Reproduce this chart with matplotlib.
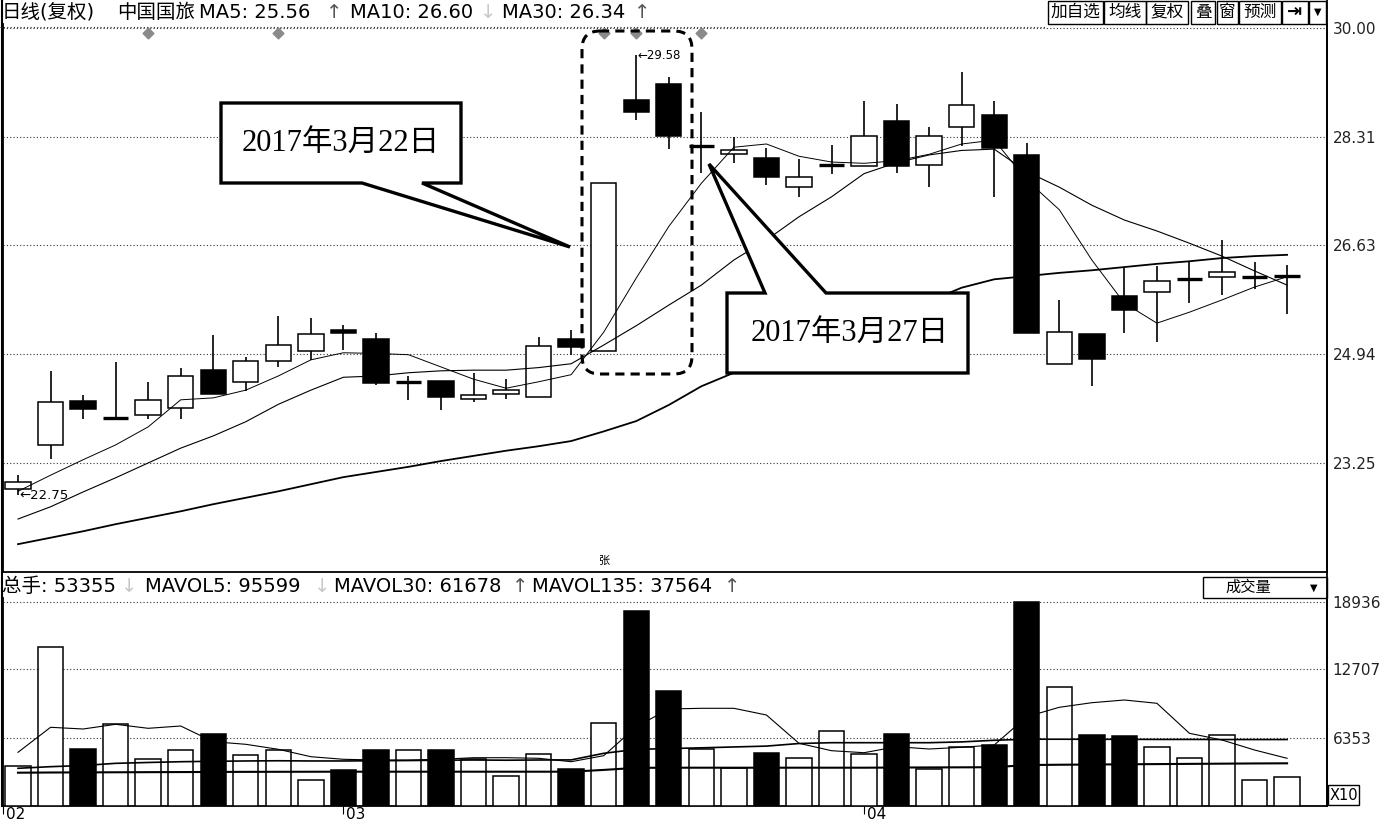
import numpy as np
import matplotlib
matplotlib.use("Agg")
import matplotlib.pyplot as plt
from matplotlib.patches import FancyBboxPatch, Polygon, Rectangle
from matplotlib.transforms import blended_transform_factory, ScaledTranslation

plt.rcParams['font.family'] = ['DejaVu Sans', 'Noto Sans CJK SC']

# K线数据
opens = np.array([22.84, 23.53, 24.21, 23.95, 23.99, 24.10, 24.70, 24.50, 24.84, 24.99,
                  25.32, 25.18, 24.50, 24.52, 24.24, 24.32, 24.28, 25.18, 24.98, 28.88,
                  29.13, 28.17, 28.04, 27.98, 27.54, 27.87, 27.86, 28.56, 27.87, 28.46,
                  28.65, 28.03, 24.78, 25.25, 25.84, 25.91, 26.10, 26.14, 26.14, 26.15])
highs = np.array([23.06, 24.67, 24.30, 24.82, 24.51, 24.72, 25.24, 24.90, 25.53, 25.50,
                  25.39, 25.26, 24.60, 24.52, 24.64, 24.56, 25.20, 25.31, 27.59, 29.58,
                  29.24, 28.70, 28.31, 28.13, 27.96, 28.18, 28.86, 28.82, 28.47, 29.31,
                  28.86, 28.21, 25.78, 25.25, 26.27, 26.31, 26.37, 26.71, 26.37, 26.32])
lows = np.array([22.75, 23.31, 23.94, 23.95, 23.94, 23.94, 24.32, 24.36, 24.74, 24.85,
                 25.01, 24.46, 24.23, 24.07, 24.19, 24.25, 24.28, 24.93, 24.98, 28.57,
                 28.12, 27.75, 27.91, 27.56, 27.38, 27.73, 27.86, 27.75, 27.54, 28.17,
                 27.37, 25.26, 24.78, 24.44, 25.27, 25.13, 25.74, 25.85, 25.95, 25.56])
closes = np.array([22.95, 24.20, 24.09, 23.95, 24.23, 24.60, 24.32, 24.83, 25.08, 25.25,
                   25.26, 24.49, 24.50, 24.28, 24.30, 24.39, 25.07, 25.05, 27.59, 28.70,
                   28.32, 28.17, 28.11, 27.68, 27.69, 27.87, 28.32, 27.86, 28.33, 28.81,
                   28.14, 25.26, 25.29, 24.86, 25.63, 26.08, 26.10, 26.22, 26.14, 26.15])

ma5 = [22.81, 23.06, 23.30, 23.53, 23.81, 24.23, 24.26, 24.38, 24.60, 24.85,
       24.96, 24.95, 24.93, 24.74, 24.55, 24.41, 24.51, 24.62, 25.28, 26.12,
       26.92, 27.59, 28.15, 28.20, 28.01, 27.92, 27.90, 27.94, 28.04, 28.20,
       28.26, 27.64, 27.18, 26.40, 25.73, 25.42, 25.59, 25.78, 25.98, 26.14]
ma10 = [22.38, 22.57, 22.80, 23.02, 23.25, 23.48, 23.67, 23.89, 24.16, 24.38,
        24.58, 24.60, 24.65, 24.68, 24.69, 24.69, 24.73, 24.79, 25.08, 25.38,
        25.70, 26.01, 26.40, 26.71, 27.07, 27.38, 27.74, 27.91, 28.03, 28.10,
        28.12, 27.77, 27.53, 27.25, 27.02, 26.85, 26.66, 26.46, 26.23, 26.01]
ma30 = [21.99, 22.09, 22.19, 22.30, 22.40, 22.50, 22.61, 22.71, 22.81, 22.92,
        23.03, 23.11, 23.19, 23.28, 23.36, 23.44, 23.51, 23.59, 23.74, 23.90,
        24.15, 24.44, 24.65, 24.83, 25.02, 25.19, 25.38, 25.58, 25.76, 25.97,
        26.10, 26.15, 26.20, 26.24, 26.29, 26.34, 26.38, 26.43, 26.46, 26.48]

# 成交量 (X10)
vol = np.array([3713, 14786, 5262, 7611, 4332, 5167, 6683, 4703, 5198, 2382,
                3341, 5198, 5167, 5198, 4363, 2785, 4827, 3434, 7673, 18130,
                10703, 5262, 3496, 4889, 4425, 6991, 4827, 6683, 3404, 5507,
                5662, 18936, 11015, 6590, 6497, 5445, 4425, 6559, 2382, 2723])
mavol5 = [4984, 7305, 7147, 7583, 7212, 7426, 5968, 5727, 5263, 4576,
          4335, 4270, 4270, 4335, 4483, 4483, 4428, 4112, 4669, 7361,
          9004, 9069, 9069, 8447, 5820, 5133, 4947, 5504, 5291, 5449,
          5662, 8289, 9161, 9588, 9839, 9533, 6748, 6126, 5198, 4428]
mavol30 = [3500, 3650, 3760, 3960, 4040, 4110, 4150, 4180, 4200, 4180,
           4180, 4200, 4220, 4250, 4270, 4250, 4270, 4280, 4890, 5260,
           5330, 5400, 5480, 5560, 5800, 5876, 5876, 5876, 5876, 5950,
           6100, 6200, 6200, 6190, 6190, 6180, 6180, 6170, 6170, 6170]
mavol135 = [3090, 3110, 3120, 3130, 3140, 3150, 3160, 3170, 3175, 3180,
            3184, 3184, 3184, 3184, 3184, 3184, 3184, 3184, 3350, 3540,
            3555, 3555, 3555, 3555, 3555, 3555, 3555, 3570, 3580, 3590,
            3600, 3800, 3830, 3850, 3870, 3890, 3910, 3930, 3950, 3963]

price_ticks = [30.00, 28.31, 26.63, 24.94, 23.25]
vol_ticks = [18936, 12707, 6353]
month_pos = [-0.45, 10, 26]
month_labels = ['02', '03', '04']
event_idx = [4, 8, 18, 19, 21]

W, H = 1385, 825
fig = plt.figure(figsize=(W / 100, H / 100), dpi=100)


def frac(x0, y0, x1, y1):
    return [x0 / W, 1 - y1 / H, (x1 - x0) / W, (y1 - y0) / H]


ax = fig.add_axes(frac(3, 24, 1327, 572))
axv = fig.add_axes(frac(3, 598, 1327, 806))
idx = np.arange(len(closes))
xlim = (-0.461, 40.227)

# ---- K线 ----
body_lo = np.minimum(opens, closes)
body_hi = np.maximum(opens, closes)
doji = closes == opens
down = closes < opens
ax.vlines(idx, lows, body_lo, color='k', lw=1.2, zorder=2)
ax.vlines(idx, body_hi, highs, color='k', lw=1.2, zorder=2)
nd = ~doji
ax.bar(idx[nd], (body_hi - body_lo)[nd], bottom=body_lo[nd], width=0.78,
       color=np.where(down, 'black', 'white')[nd], edgecolor='k', lw=1.1, zorder=3)
ax.hlines(closes[doji], idx[doji] - 0.39, idx[doji] + 0.39, color='k', lw=2.4, zorder=3)

ax.plot(idx, ma5, color='k', lw=0.7, zorder=4)
ax.plot(idx, ma10, color='k', lw=0.8, zorder=4)
ax.plot(idx, ma30, color='k', lw=1.3, zorder=4)

ax.set_xlim(*xlim)
ax.set_ylim(21.558, 30.062)
ax.yaxis.tick_right()
ax.set_yticks(price_ticks)
ax.set_yticklabels([f'{t:.2f}' for t in price_ticks])
ax.tick_params(axis='y', length=0, pad=4, labelsize=11, labelcolor='#222')
ax.tick_params(axis='x', bottom=False, labelbottom=False)
ax.grid(axis='y', linestyle=(0, (1, 2)), color='#333', lw=0.8)
ax.spines['top'].set_visible(False)
for s in ['left', 'right', 'bottom']:
    ax.spines[s].set_linewidth(1.3)

# 标记
tr = blended_transform_factory(ax.transData, ax.transAxes)
ax.scatter(event_idx, [0.984] * len(event_idx), marker='D', s=30, color='#8a8a8a',
           transform=tr, clip_on=False, zorder=5)
ax.text(18, 0.012, '张', transform=tr, ha='center', va='bottom', fontsize=8,
        fontfamily='Noto Sans CJK SC')
hi_i = int(np.argmax(highs))
lo_i = int(np.argmin(lows))
ax.text(hi_i + 0.05, highs[hi_i], f'←{highs[hi_i]:.2f}', fontsize=8.5, va='center', ha='left')
ax.text(lo_i + 0.05, lows[lo_i], f'←{lows[lo_i]:.2f}', fontsize=9.5, va='center', ha='left')

# ---- 成交量 ----
axv.bar(idx, vol, width=0.78, color=np.where(down, 'black', 'white'), edgecolor='k',
        lw=1.1, zorder=3)
axv.plot(idx, mavol5, color='k', lw=0.8, zorder=4)
axv.plot(idx, mavol30, color='k', lw=1.2, zorder=4)
axv.plot(idx, mavol135, color='k', lw=1.5, zorder=4)
axv.set_xlim(*xlim)
axv.set_ylim(0, 18936 * 208 / 204)
axv.yaxis.tick_right()
axv.set_yticks(vol_ticks)
axv.set_yticklabels([str(t) for t in vol_ticks])
axv.tick_params(axis='y', length=0, pad=4, labelsize=11, labelcolor='#222')
axv.set_xticks(month_pos)
axv.set_xticklabels(month_labels, ha='left', fontsize=11)
axv.tick_params(axis='x', length=6, width=0.8, pad=-5, direction='out')
shift = ScaledTranslation(3 / 100, 0, fig.dpi_scale_trans)
for lab in axv.get_xticklabels():
    lab.set_transform(lab.get_transform() + shift)
axv.grid(axis='y', linestyle=(0, (1, 2)), color='#333', lw=0.8)
axv.spines['top'].set_visible(False)
for s in ['left', 'right', 'bottom']:
    axv.spines[s].set_linewidth(1.3)

# ---- 叠加层: 标题、按钮、标注 ----
ov = fig.add_axes([0, 0, 1, 1], zorder=10)
ov.set_xlim(0, W)
ov.set_ylim(H, 0)
ov.axis('off')
ov.patch.set_alpha(0)

ov.plot([2, 2], [0, 806], color='k', lw=1.5)
ov.plot([1327, 1327], [0, 806], color='k', lw=1.3)
ov.plot([0, 1045], [27, 27], color='#333', lw=0.8, linestyle=(0, (1, 2)))

hdr = [(2, '日线(复权)', 'k'), (117, '中国国旅', 'k'), (199, 'MA5: 25.56', 'k'),
       (326, '↑', '#555'), (350, 'MA10: 26.60', 'k'), (480, '↓', '#c8c8c8'),
       (502, 'MA30: 26.34', 'k'), (634, '↑', '#555')]
for x, s, c in hdr:
    ov.text(x, 12, s, fontsize=14, color=c, va='center', ha='left')

vhdr = [(2, '总手: 53355', 'k'), (121, '↓', '#c8c8c8'), (145, 'MAVOL5: 95599', 'k'),
        (314, '↓', '#c8c8c8'), (334, 'MAVOL30: 61678', 'k'), (512, '↑', '#555'),
        (532, 'MAVOL135: 37564', 'k'), (724, '↑', '#555')]
for x, s, c in vhdr:
    ov.text(x, 587, s, fontsize=14, color=c, va='center', ha='left')

buttons = [(1048, 1103, '加自选'), (1104, 1146, '均线'), (1146, 1188, '复权'),
           (1191, 1215, '叠'), (1217, 1238, '窗'), (1239, 1281, '预测'),
           (1282, 1308, '⇥'), (1309, 1326, '▼')]
for x0, x1, s in buttons:
    ov.add_patch(Rectangle((x0, 1), x1 - x0, 23, fill=False, ec='k', lw=1.0))
    if s == '⇥':
        ov.text((x0 + x1) / 2, 12, s, fontsize=13, fontweight='bold', ha='center', va='center',
                fontfamily='DejaVu Sans')
    elif s == '▼':
        ov.text((x0 + x1) / 2, 12, s, fontsize=7, ha='center', va='center',
                fontfamily='DejaVu Sans')
    else:
        ov.text((x0 + x1) / 2, 12, s, fontsize=12, ha='center', va='center',
                fontfamily='Noto Sans CJK SC')

ov.add_patch(Rectangle((1203, 577), 124, 21, fill=False, ec='k', lw=1.0))
ov.text(1248, 587.5, '成交量', fontsize=11, ha='center', va='center', fontfamily='Noto Sans CJK SC')
ov.text(1314, 587.5, '▼', fontsize=7, ha='center', va='center', fontfamily='DejaVu Sans')
ov.add_patch(Rectangle((1328, 785), 31, 20, fill=False, ec='k', lw=1.0))
ov.text(1343.5, 795, 'X10', fontsize=10.5, ha='center', va='center')

# 虚线框
ov.add_patch(FancyBboxPatch((582, 31), 110, 343, boxstyle='round,pad=0,rounding_size=18',
                            fill=False, ec='k', lw=2.2, linestyle=(0, (3, 2))))

# 标注框
serif = ['Liberation Serif', 'Noto Sans CJK SC']
call1 = [(221, 103), (461, 103), (461, 183), (422, 183), (570, 247), (362, 183), (221, 183)]
ov.add_patch(Polygon(call1, closed=True, fc='white', ec='k', lw=2.4, joinstyle='miter'))
ov.text(341, 143, '2017年3月22日', fontsize=22, ha='center', va='center', fontfamily=serif)

call2 = [(727, 373), (727, 293), (765, 293), (709, 164), (826, 293), (968, 293), (968, 373)]
ov.add_patch(Polygon(call2, closed=True, fc='white', ec='k', lw=2.4, joinstyle='miter'))
ov.text(850, 333, '2017年3月27日', fontsize=22, ha='center', va='center', fontfamily=serif)

fig.savefig('out.png', dpi=100, facecolor='white')
